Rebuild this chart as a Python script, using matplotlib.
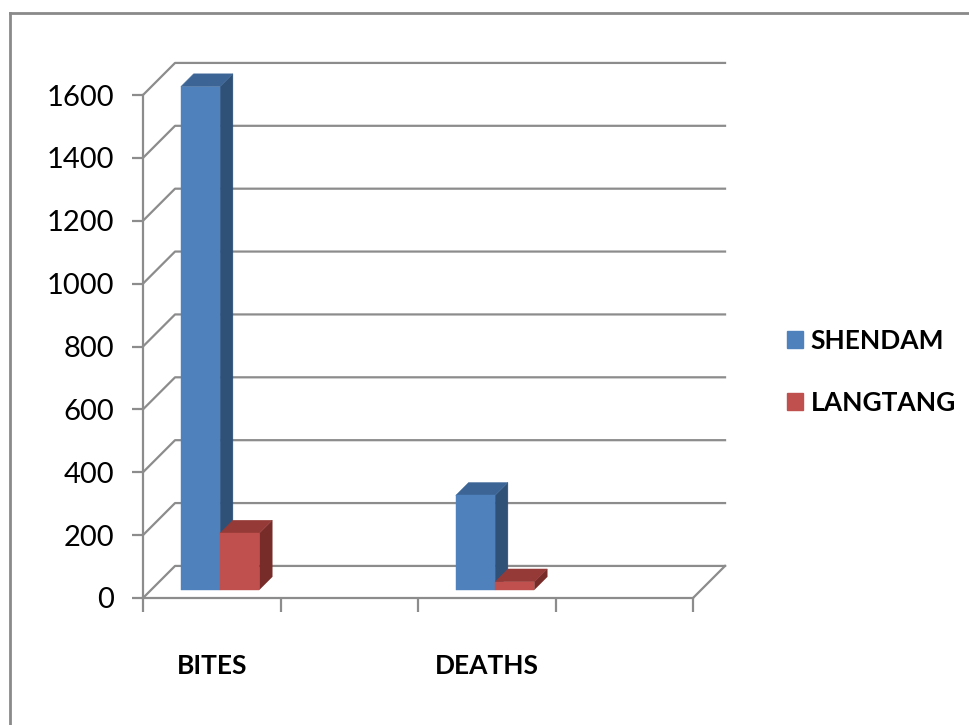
import numpy as np
import matplotlib.pyplot as plt
from matplotlib.patches import Polygon, Patch
from matplotlib.lines import Line2D

# data
categories = ['BITES', '', 'DEATHS', '']
series_names = ['SHENDAM', 'LANGTANG']
shendam = [1600, np.nan, 300, np.nan]
langtang = [180, np.nan, 25, np.nan]
yticks = [0, 200, 400, 600, 800, 1000, 1200, 1400, 1600]

front_colors = ['#4F81BD', '#C0504D']
top_colors = ['#3C6595', '#953A37']
side_colors = ['#2F5178', '#772C2A']
grid_color = '#8C8C8C'

# oblique depth of the floor, in data units
DX = 0.233
DY = 102.0
# bar sits between these depth fractions
D0, D1 = 0.26, 0.66
BAR_W = 1 / 3.5

plt.rcParams['font.family'] = ['Lato', 'DejaVu Sans']

fig = plt.figure(figsize=(9.69, 7.25), dpi=100)
fig.patch.set_facecolor('white')
ax = fig.add_axes([143 / 969, 1 - 598 / 725, 550 / 969, 503 / 725])
ax.set_xlim(0, len(categories))
ax.set_ylim(0, 1600)
ax.patch.set_alpha(0)

# back wall gridlines and floor
for v in yticks:
    ax.plot([0, DX, len(categories) + DX], [v, v + DY, v + DY],
            color=grid_color, lw=1.6, clip_on=False, zorder=1)
ax.plot([len(categories), len(categories) + DX], [0, DY],
        color=grid_color, lw=1.6, clip_on=False, zorder=1)


def draw_bar(x0, v, k):
    a0x, a0y = x0 + D0 * DX, D0 * DY
    a1x, a1y = x0 + D1 * DX, D1 * DY
    side = [(a0x + BAR_W, a0y), (a1x + BAR_W, a1y),
            (a1x + BAR_W, v + a1y), (a0x + BAR_W, v + a0y)]
    top = [(a0x, v + a0y), (a0x + BAR_W, v + a0y),
           (a1x + BAR_W, v + a1y), (a1x, v + a1y)]
    front = [(a0x, a0y), (a0x + BAR_W, a0y),
             (a0x + BAR_W, v + a0y), (a0x, v + a0y)]
    for pts, c in [(side, side_colors[k]), (top, top_colors[k]), (front, front_colors[k])]:
        ax.add_patch(Polygon(pts, closed=True, facecolor=c, edgecolor=c,
                             lw=0.3, clip_on=False, zorder=3))


for i in range(len(categories)):
    for k, vals in enumerate([shendam, langtang]):
        v = vals[i]
        if np.isnan(v):
            continue
        x0 = i + 0.5 - BAR_W + k * BAR_W
        draw_bar(x0, v, k)

for s in ['top', 'right']:
    ax.spines[s].set_visible(False)
for s in ['left', 'bottom']:
    ax.spines[s].set_color(grid_color)
    ax.spines[s].set_linewidth(1.6)

ax.set_yticks(yticks)
ax.set_yticklabels([str(t) for t in yticks], fontsize=21)
ax.tick_params(axis='y', length=8, width=1.6, color=grid_color, pad=13)

ax.set_xticks(range(len(categories) + 1))
ax.set_xticklabels([])
ax.tick_params(axis='x', which='major', length=10, width=1.6, color=grid_color)
ax.set_xticks(np.arange(len(categories)) + 0.5, minor=True)
ax.set_xticklabels(categories, minor=True, fontsize=19, fontweight='bold')
ax.tick_params(axis='x', which='minor', length=0, pad=40)

handles = [Patch(facecolor=c, edgecolor=c) for c in front_colors]
fig.legend(handles, series_names, loc='center left',
           bbox_to_anchor=(787 / 969, 1 - 372 / 725), frameon=False,
           prop={'size': 19, 'weight': 'bold'}, handlelength=0.6,
           handleheight=0.6, handletextpad=0.3, labelspacing=1.45,
           borderpad=0, borderaxespad=0)

# outer chart frame (left and top edges visible)
fig.add_artist(Line2D([10 / 969, 10 / 969], [0, 1 - 13 / 725], color='#8A8A8A', lw=2))
fig.add_artist(Line2D([10 / 969, 1], [1 - 13 / 725, 1 - 13 / 725], color='#8A8A8A', lw=2))

plt.savefig('out.png', dpi=100)
